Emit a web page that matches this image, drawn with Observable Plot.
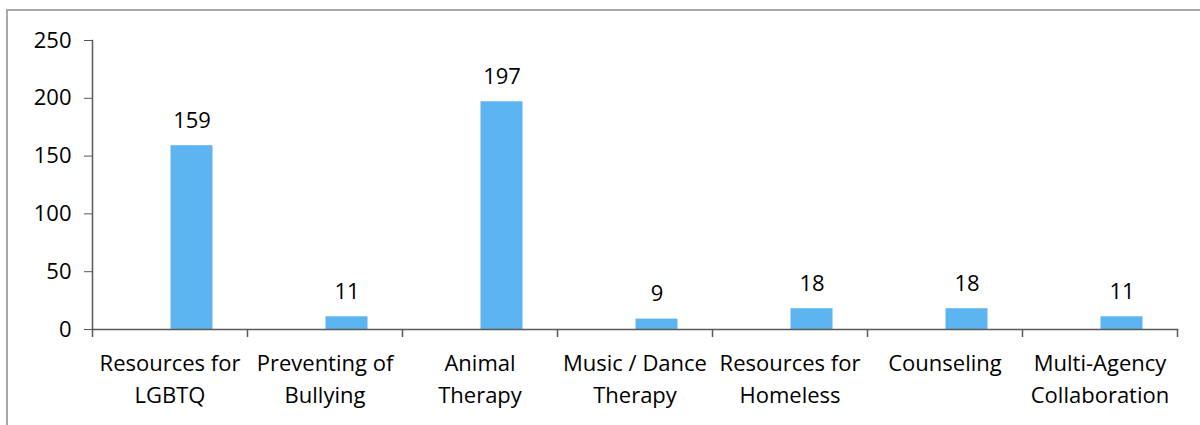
<!DOCTYPE html>
<html>
<head>
<meta charset="utf-8">
<script src="https://cdn.jsdelivr.net/npm/d3@7"></script>
<script src="https://cdn.jsdelivr.net/npm/@observablehq/plot@0.6"></script>
<style>
  html, body { margin: 0; padding: 0; background: #fff; }
  #wrap { position: relative; width: 1200px; height: 425px; overflow: hidden; }
  #border { position: absolute; left: 6px; top: 9px; right: 0; bottom: -5px;
            border-top: 2px solid #a9a9a9; border-left: 2px solid #a9a9a9; }
  #chart { position: absolute; left: 0; top: 0; }
</style>
</head>
<body>
<div id="wrap"><div id="border"></div><div id="chart"></div></div>
<script>
const categories = [
  "Resources for\nLGBTQ",
  "Preventing of\nBullying",
  "Animal\nTherapy",
  "Music / Dance\nTherapy",
  "Resources for\nHomeless",
  "Counseling",
  "Multi-Agency\nCollaboration"
];
const values = [159, 11, 197, 9, 18, 18, 11];
const yTicks = [0, 50, 100, 150, 200, 250];

const data = categories.map((c, i) => ({category: c, value: values[i]}));
const font = "'Open Sans', sans-serif";
const band = (1177 - 92) / categories.length;
const axisColor = "#595959";

const plot = Plot.plot({
  width: 1200,
  height: 425,
  marginLeft: 92,
  marginRight: 23,
  marginTop: 40,
  marginBottom: 96,
  style: {fontFamily: font, fontSize: "22px", color: "#000", background: "transparent"},
  x: {domain: categories, padding: 0},
  y: {domain: [0, 250]},
  marks: [
    Plot.barY(data, {x: "category", y: "value", fill: "#5cb4f0",
      insetLeft: (band - 42) / 2, insetRight: (band - 42) / 2, dx: 22}),
    Plot.text(data, {x: "category", y: "value", text: d => String(d.value),
      dx: 22, dy: -18, lineAnchor: "bottom", fontSize: 22, fill: "#000"}),
    Plot.frame({anchor: "left", stroke: axisColor, strokeWidth: 1.5}),
    Plot.frame({anchor: "bottom", stroke: axisColor, strokeWidth: 1.5}),
    // category boundary ticks (left edge of each band, plus right edge of last)
    Plot.ruleX(categories, {x: d => d, dx: -band / 2, y1: 0, y2: 0, insetBottom: -8, stroke: axisColor, strokeWidth: 1.5}),
    Plot.ruleX(categories.slice(-1), {x: d => d, dx: band / 2, y1: 0, y2: 0, insetBottom: -8, stroke: axisColor, strokeWidth: 1.5}),
    Plot.axisY({ticks: yTicks, tickSize: 8, tickPadding: 13, stroke: axisColor, fill: "#000", fontSize: 22, label: null}),
    Plot.axisX({tickSize: 0, tickPadding: 19, fill: "#000", fontSize: 22, lineHeight: 1.45, label: null})
  ]
});
document.getElementById("chart").appendChild(plot);
</script>
</body>
</html>
